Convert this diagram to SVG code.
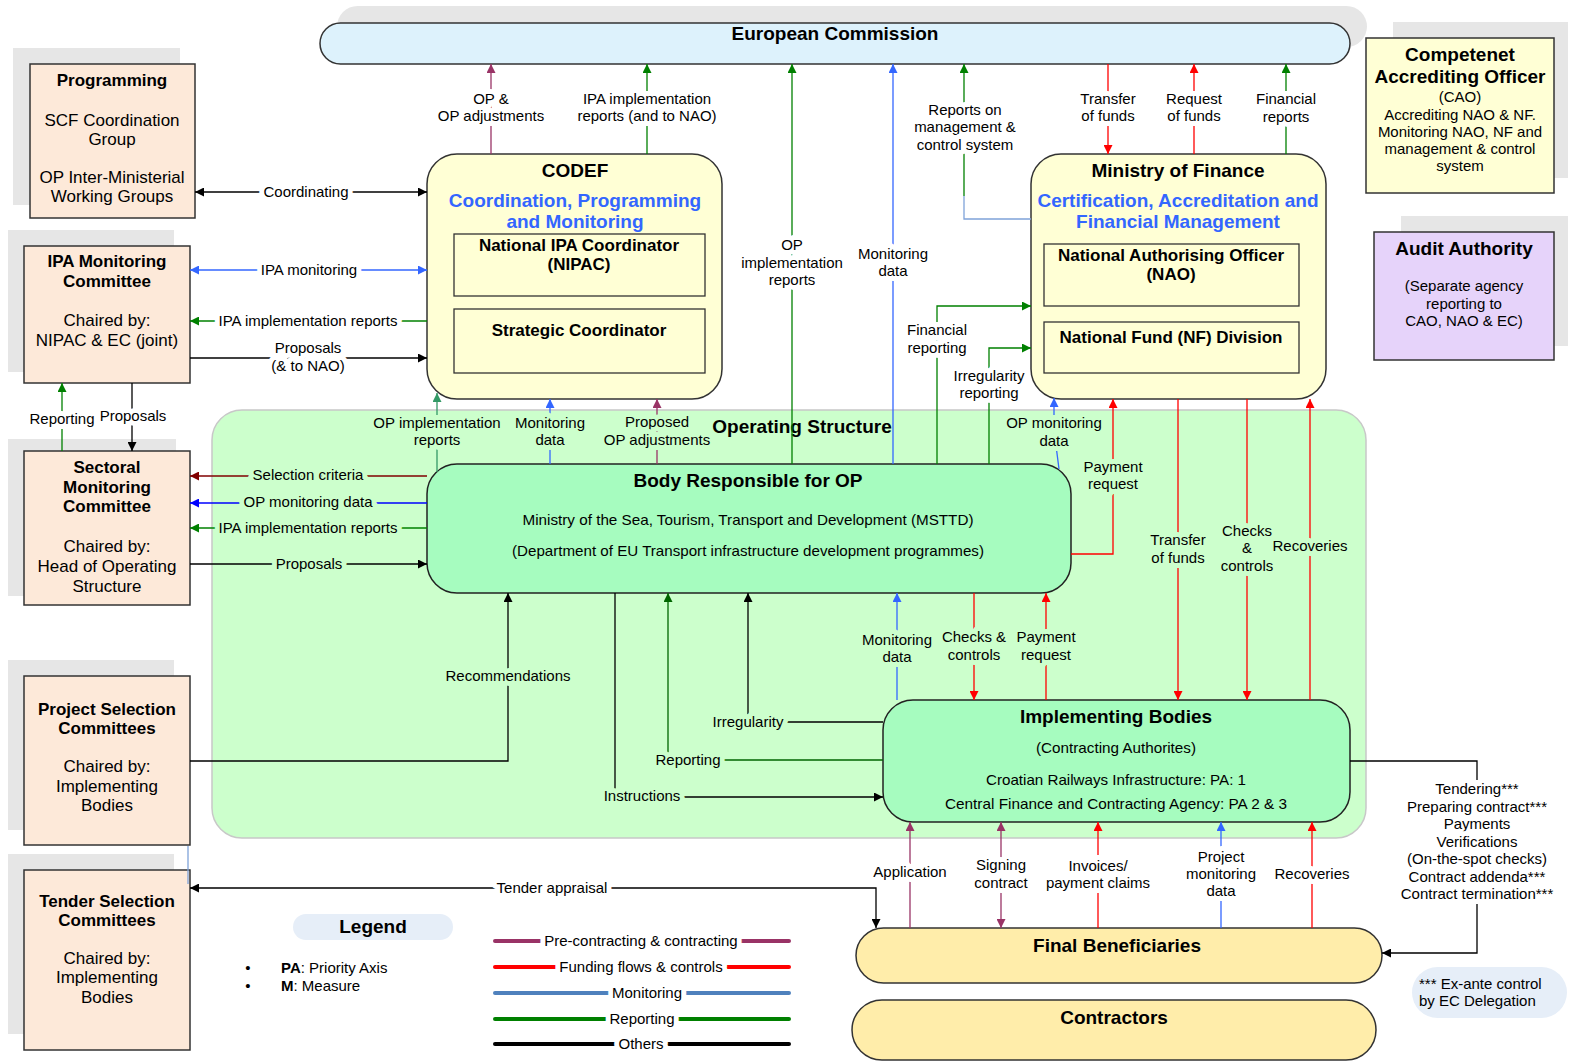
<svg xmlns="http://www.w3.org/2000/svg" width="1585" height="1064" viewBox="0 0 1585 1064">
<style>
text{font-family:"Liberation Sans",Arial,sans-serif;fill:#000;text-anchor:middle}
.t19{font-size:19px;font-weight:bold}
.t17b{font-size:17px;font-weight:bold}
.t17{font-size:17px}
.t15{font-size:15px}
.blue{fill:#3366FF}
.lbl{font-size:15px;stroke:#fff;stroke-width:10;stroke-linejoin:round;paint-order:stroke}
.lblg{font-size:15px;stroke:#CCFFCC;stroke-width:10;stroke-linejoin:round;paint-order:stroke}
.shadow{fill:#E6E6E6}
.box{fill:#FDE9D9;stroke:#333;stroke-width:1.5}
.yel{fill:#FFFFD5;stroke:#333;stroke-width:1.5}
.inner{fill:#FFFFD5;stroke:#333;stroke-width:1.3}
.grn{fill:#A6FCBF;stroke:#222;stroke-width:1.5}
.fb{fill:#FFEDAA;stroke:#333;stroke-width:1.5}
.c{fill:none;stroke-width:1.3}
.k{stroke:#000}.r{stroke:#FF0000}.b{stroke:#3366FF}.b2{stroke:#0000FF}.g{stroke:#008000}.gd{stroke:#006600}.gt{stroke:#339966}.p{stroke:#993366}.dr{stroke:#800000}.lb{stroke:#7FA3D9}
.leg{fill:none;stroke-width:4;stroke-linecap:round}
</style>
<defs>
<marker id="ak" viewBox="0 0 10 10" refX="10" refY="5" markerWidth="13" markerHeight="9" markerUnits="userSpaceOnUse" orient="auto-start-reverse"><path d="M0,0L10,5L0,10z" fill="#000"/></marker>
<marker id="ar" viewBox="0 0 10 10" refX="10" refY="5" markerWidth="13" markerHeight="9" markerUnits="userSpaceOnUse" orient="auto-start-reverse"><path d="M0,0L10,5L0,10z" fill="#FF0000"/></marker>
<marker id="ab" viewBox="0 0 10 10" refX="10" refY="5" markerWidth="13" markerHeight="9" markerUnits="userSpaceOnUse" orient="auto-start-reverse"><path d="M0,0L10,5L0,10z" fill="#3366FF"/></marker>
<marker id="ab2" viewBox="0 0 10 10" refX="10" refY="5" markerWidth="13" markerHeight="9" markerUnits="userSpaceOnUse" orient="auto-start-reverse"><path d="M0,0L10,5L0,10z" fill="#0000FF"/></marker>
<marker id="ag" viewBox="0 0 10 10" refX="10" refY="5" markerWidth="13" markerHeight="9" markerUnits="userSpaceOnUse" orient="auto-start-reverse"><path d="M0,0L10,5L0,10z" fill="#008000"/></marker>
<marker id="agd" viewBox="0 0 10 10" refX="10" refY="5" markerWidth="13" markerHeight="9" markerUnits="userSpaceOnUse" orient="auto-start-reverse"><path d="M0,0L10,5L0,10z" fill="#006600"/></marker>
<marker id="agt" viewBox="0 0 10 10" refX="10" refY="5" markerWidth="13" markerHeight="9" markerUnits="userSpaceOnUse" orient="auto-start-reverse"><path d="M0,0L10,5L0,10z" fill="#339966"/></marker>
<marker id="ap" viewBox="0 0 10 10" refX="10" refY="5" markerWidth="13" markerHeight="9" markerUnits="userSpaceOnUse" orient="auto-start-reverse"><path d="M0,0L10,5L0,10z" fill="#993366"/></marker>
<marker id="adr" viewBox="0 0 10 10" refX="10" refY="5" markerWidth="13" markerHeight="9" markerUnits="userSpaceOnUse" orient="auto-start-reverse"><path d="M0,0L10,5L0,10z" fill="#800000"/></marker>
</defs>
<rect width="1585" height="1064" fill="#fff"/>

<g id="shadows">
<rect class="shadow" x="337" y="6" width="1030" height="41" rx="20.5"/>
<rect class="shadow" x="13" y="48" width="167" height="157"/>
<rect class="shadow" x="8" y="230" width="166" height="142"/>
<rect class="shadow" x="8" y="439" width="168" height="157"/>
<rect class="shadow" x="8" y="660" width="166" height="170"/>
<rect class="shadow" x="8" y="854" width="166" height="180"/>
<rect class="shadow" x="1393" y="22" width="175" height="156"/>
<rect class="shadow" x="1401" y="216" width="167" height="130"/>
</g>

<g id="operating-structure">
<rect x="212" y="410" width="1154" height="428" rx="30" fill="#CCFFCC" stroke="#C8C8C8" stroke-width="1.5"/>
<text class="t19" x="802" y="433">Operating Structure</text>
</g>

<g id="european-commission">
<rect x="320" y="23" width="1030" height="41" rx="20.5" fill="#DDF2FC" stroke="#333" stroke-width="1.5"/>
<text class="t19" x="835" y="40">European Commission</text>
</g>

<g id="programming">
<rect class="box" x="30" y="64" width="165" height="154"/>
<text class="t17b" x="112" y="86">Programming</text>
<text class="t17" x="112" y="126">SCF Coordination</text>
<text class="t17" x="112" y="145">Group</text>
<text class="t17" x="112" y="183">OP Inter-Ministerial</text>
<text class="t17" x="112" y="202">Working Groups</text>
</g>

<g id="ipa-monitoring-committee">
<rect class="box" x="24" y="246" width="166" height="137"/>
<text class="t17b" x="107" y="267">IPA Monitoring</text>
<text class="t17b" x="107" y="287">Committee</text>
<text class="t17" x="107" y="326">Chaired by:</text>
<text class="t17" x="107" y="346">NIPAC &amp; EC (joint)</text>
</g>

<g id="sectoral-monitoring-committee">
<rect class="box" x="24" y="451" width="166" height="154"/>
<text class="t17b" x="107" y="473">Sectoral</text>
<text class="t17b" x="107" y="493">Monitoring</text>
<text class="t17b" x="107" y="512">Committee</text>
<text class="t17" x="107" y="552">Chaired by:</text>
<text class="t17" x="107" y="572">Head of Operating</text>
<text class="t17" x="107" y="592">Structure</text>
</g>

<g id="project-selection-committees">
<rect class="box" x="24" y="676" width="166" height="169"/>
<text class="t17b" x="107" y="715">Project Selection</text>
<text class="t17b" x="107" y="734">Committees</text>
<text class="t17" x="107" y="772">Chaired by:</text>
<text class="t17" x="107" y="792">Implementing</text>
<text class="t17" x="107" y="811">Bodies</text>
</g>

<g id="tender-selection-committees">
<rect class="box" x="24" y="870" width="166" height="180"/>
<text class="t17b" x="107" y="907">Tender Selection</text>
<text class="t17b" x="107" y="926">Committees</text>
<text class="t17" x="107" y="964">Chaired by:</text>
<text class="t17" x="107" y="983">Implementing</text>
<text class="t17" x="107" y="1003">Bodies</text>
</g>

<g id="codef">
<rect class="yel" x="427" y="154" width="295" height="245" rx="30"/>
<text class="t19" x="575" y="177">CODEF</text>
<text class="t19 blue" x="575" y="207">Coordination, Programming</text>
<text class="t19 blue" x="575" y="228">and Monitoring</text>
<rect class="inner" x="454" y="234" width="251" height="62"/>
<text class="t17b" x="579" y="251">National IPA Coordinator</text>
<text class="t17b" x="579" y="270">(NIPAC)</text>
<rect class="inner" x="454" y="309" width="251" height="64"/>
<text class="t17b" x="579" y="336">Strategic Coordinator</text>
</g>

<g id="ministry-of-finance">
<rect class="yel" x="1031" y="154" width="295" height="245" rx="30"/>
<text class="t19" x="1178" y="177">Ministry of Finance</text>
<text class="t19 blue" x="1178" y="207">Certification, Accreditation and</text>
<text class="t19 blue" x="1178" y="228">Financial Management</text>
<rect class="inner" x="1044" y="244" width="255" height="62"/>
<text class="t17b" x="1171" y="261">National Authorising Officer</text>
<text class="t17b" x="1171" y="280">(NAO)</text>
<rect class="inner" x="1044" y="322" width="255" height="51"/>
<text class="t17b" x="1171" y="343">National Fund (NF) Division</text>
</g>

<g id="competent-accrediting-officer">
<rect x="1366" y="38" width="188" height="155" fill="#FFFFD5" stroke="#333" stroke-width="1.5"/>
<text class="t19" x="1460" y="61">Competenet</text>
<text class="t19" x="1460" y="83">Accrediting Officer</text>
<text class="t15" x="1460" y="102">(CAO)</text>
<text class="t15" x="1460" y="120">Accrediting NAO &amp; NF.</text>
<text class="t15" x="1460" y="137">Monitoring NAO, NF and</text>
<text class="t15" x="1460" y="154">management &amp; control</text>
<text class="t15" x="1460" y="171">system</text>
</g>

<g id="audit-authority">
<rect x="1374" y="232" width="180" height="128" fill="#E6D3FA" stroke="#333" stroke-width="1.5"/>
<text class="t19" x="1464" y="255">Audit Authority</text>
<text class="t15" x="1464" y="291">(Separate agency</text>
<text class="t15" x="1464" y="309">reporting to</text>
<text class="t15" x="1464" y="326">CAO, NAO &amp; EC)</text>
</g>

<g id="body-responsible">
<rect class="grn" x="427" y="464" width="644" height="129" rx="30"/>
<text class="t19" x="748" y="487">Body Responsible for OP</text>
<text class="t15" x="748" y="525" textLength="451" lengthAdjust="spacingAndGlyphs">Ministry of the Sea, Tourism, Transport and Development (MSTTD)</text>
<text class="t15" x="748" y="556" textLength="472" lengthAdjust="spacingAndGlyphs">(Department of EU Transport infrastructure development programmes)</text>
</g>

<g id="implementing-bodies">
<rect class="grn" x="883" y="700" width="467" height="122" rx="30"/>
<text class="t19" x="1116" y="723">Implementing Bodies</text>
<text class="t15" x="1116" y="753" textLength="160" lengthAdjust="spacingAndGlyphs">(Contracting Authorites)</text>
<text class="t15" x="1116" y="785" textLength="260" lengthAdjust="spacingAndGlyphs">Croatian Railways Infrastructure: PA: 1</text>
<text class="t15" x="1116" y="809" textLength="342" lengthAdjust="spacingAndGlyphs">Central Finance and Contracting Agency: PA 2 &amp; 3</text>
</g>

<g id="final-beneficiaries">
<rect class="fb" x="856" y="928" width="526" height="55" rx="27.5"/>
<text class="t19" x="1117" y="952">Final Beneficiaries</text>
</g>

<g id="contractors">
<rect class="fb" x="852" y="1000" width="524" height="60" rx="30"/>
<text class="t19" x="1114" y="1024">Contractors</text>
</g>

<g id="legend">
<rect x="293" y="914" width="160" height="26" rx="13" fill="#E6EEF8"/>
<text class="t19" x="373" y="933">Legend</text>
<text class="t15" x="248" y="973">•</text>
<text class="t15" x="281" y="973" style="text-anchor:start"><tspan font-weight="bold">PA</tspan>: Priority Axis</text>
<text class="t15" x="248" y="991">•</text>
<text class="t15" x="281" y="991" style="text-anchor:start"><tspan font-weight="bold">M</tspan>: Measure</text>
<path class="leg" d="M495,941H789" stroke="#993366"/>
<path class="leg" d="M495,967H789" stroke="#FF0000"/>
<path class="leg" d="M495,993H789" stroke="#4F81BD"/>
<path class="leg" d="M495,1019H789" stroke="#008000"/>
<path class="leg" d="M495,1044H789" stroke="#000"/>
<text class="lbl" x="641" y="946">Pre-contracting &amp; contracting</text>
<text class="lbl" x="641" y="972">Funding flows &amp; controls</text>
<text class="lbl" x="647" y="998">Monitoring</text>
<text class="lbl" x="642" y="1024">Reporting</text>
<text class="lbl" x="641" y="1049">Others</text>
</g>

<g id="ex-ante-note">
<rect x="1412" y="967" width="155" height="51" rx="25.5" fill="#E6EEF8"/>
<text class="t15" x="1419" y="989" style="text-anchor:start">*** Ex-ante control</text>
<text class="t15" x="1419" y="1006" style="text-anchor:start">by EC Delegation</text>
</g>

<g id="connectors">
<path class="c k" d="M195,192H427" marker-start="url(#ak)" marker-end="url(#ak)"/>
<path class="c b" d="M190,270H427" marker-start="url(#ab)" marker-end="url(#ab)"/>
<path class="c g" d="M427,321H190" marker-end="url(#ag)"/>
<path class="c k" d="M190,358H427" marker-end="url(#ak)"/>
<path class="c g" d="M62,451V383" marker-end="url(#ag)"/>
<path class="c k" d="M132,383V451" marker-end="url(#ak)"/>
<path class="c dr" d="M427,476H190" marker-end="url(#adr)"/>
<path class="c b2" d="M427,503H190" marker-end="url(#ab2)"/>
<path class="c g" d="M427,528H190" marker-end="url(#ag)"/>
<path class="c k" d="M190,564H427" marker-end="url(#ak)"/>
<path class="c k" d="M190,761H508V593" marker-end="url(#ak)"/>
<path class="c k" d="M876,928V888H190" marker-start="url(#ak)" marker-end="url(#ak)"/>
<path class="c lb" d="M188,846V884"/>
<path class="c p" d="M491,154V64" marker-end="url(#ap)"/>
<path class="c g" d="M647,154V64" marker-end="url(#ag)"/>
<path class="c g" d="M792,464V64" marker-end="url(#ag)"/>
<path class="c b" d="M893,464V64" marker-end="url(#ab)"/>
<path class="c lb" d="M1031,219H964V196"/>
<path class="c g" d="M964,196V64" marker-end="url(#ag)"/>
<path class="c r" d="M1108,64V154" marker-end="url(#ar)"/>
<path class="c r" d="M1194,154V64" marker-end="url(#ar)"/>
<path class="c g" d="M1286,154V64" marker-end="url(#ag)"/>
<path class="c g" d="M937,464V306H1031" marker-end="url(#ag)"/>
<path class="c g" d="M989,464V348H1031" marker-end="url(#ag)"/>
<path class="c b" d="M1059,469L1054,430V398" marker-end="url(#ab)"/>
<path class="c r" d="M1071,554H1113V399" marker-end="url(#ar)"/>
<path class="c r" d="M1178,399V700" marker-end="url(#ar)"/>
<path class="c r" d="M1247,399V700" marker-end="url(#ar)"/>
<path class="c r" d="M1310,700V399" marker-end="url(#ar)"/>
<path class="c gt" d="M437,472V393" marker-end="url(#agt)"/>
<path class="c b" d="M550,464V399" marker-end="url(#ab)"/>
<path class="c p" d="M657,464V399" marker-end="url(#ap)"/>
<path class="c k" d="M615,593V797H883" marker-end="url(#ak)"/>
<path class="c gd" d="M883,760H668V593" marker-end="url(#agd)"/>
<path class="c k" d="M883,722H748V593" marker-end="url(#ak)"/>
<path class="c b" d="M897,700V593" marker-end="url(#ab)"/>
<path class="c r" d="M974,593V700" marker-end="url(#ar)"/>
<path class="c r" d="M1046,700V593" marker-end="url(#ar)"/>
<path class="c k" d="M1350,761H1477V953H1382" marker-end="url(#ak)"/>
<path class="c p" d="M910,928V822" marker-end="url(#ap)"/>
<path class="c p" d="M1001,822V928" marker-start="url(#ap)" marker-end="url(#ap)"/>
<path class="c r" d="M1098,928V822" marker-end="url(#ar)"/>
<path class="c b" d="M1221,928V822" marker-end="url(#ab)"/>
<path class="c r" d="M1312,928V822" marker-end="url(#ar)"/>

<text class="lbl" x="306" y="197">Coordinating</text>
<text class="lbl" x="309" y="275">IPA monitoring</text>
<text class="lbl" x="308" y="326">IPA implementation reports</text>
<text class="lbl" x="308" y="353">Proposals</text>
<text class="lbl" x="308" y="371">(&amp; to NAO)</text>
<text class="lbl" x="62" y="424">Reporting</text>
<text class="lbl" x="133" y="421">Proposals</text>
<text class="lblg" x="308" y="480">Selection criteria</text>
<text class="lblg" x="308" y="507">OP monitoring data</text>
<text class="lblg" x="308" y="533">IPA implementation reports</text>
<text class="lblg" x="309" y="569">Proposals</text>
<text class="lblg" x="508" y="681">Recommendations</text>
<text class="lbl" x="552" y="893">Tender appraisal</text>
<text class="lbl" x="491" y="104">OP &amp;</text>
<text class="lbl" x="491" y="121">OP adjustments</text>
<text class="lbl" x="647" y="104">IPA implementation</text>
<text class="lbl" x="647" y="121">reports (and to NAO)</text>
<text class="lbl" x="792" y="250">OP</text>
<text class="lbl" x="792" y="268">implementation</text>
<text class="lbl" x="792" y="285">reports</text>
<text class="lbl" x="893" y="259">Monitoring</text>
<text class="lbl" x="893" y="276">data</text>
<text class="lbl" x="965" y="115">Reports on</text>
<text class="lbl" x="965" y="132">management &amp;</text>
<text class="lbl" x="965" y="150">control system</text>
<text class="lbl" x="1108" y="104">Transfer</text>
<text class="lbl" x="1108" y="121">of funds</text>
<text class="lbl" x="1194" y="104">Request</text>
<text class="lbl" x="1194" y="121">of funds</text>
<text class="lbl" x="1286" y="104">Financial</text>
<text class="lbl" x="1286" y="122">reports</text>
<text class="lbl" x="937" y="335">Financial</text>
<text class="lbl" x="937" y="353">reporting</text>
<text class="lbl" x="989" y="381">Irregularity</text>
<text class="lbl" x="989" y="398">reporting</text>
<text class="lblg" x="1054" y="428">OP monitoring</text>
<text class="lblg" x="1054" y="446">data</text>
<text class="lblg" x="1113" y="472">Payment</text>
<text class="lblg" x="1113" y="489">request</text>
<text class="lblg" x="1178" y="545">Transfer</text>
<text class="lblg" x="1178" y="563">of funds</text>
<text class="lblg" x="1247" y="536">Checks</text>
<text class="lblg" x="1247" y="553">&amp;</text>
<text class="lblg" x="1247" y="571">controls</text>
<text class="lblg" x="1310" y="551">Recoveries</text>
<text class="lblg" x="437" y="428">OP implementation</text>
<text class="lblg" x="437" y="445">reports</text>
<text class="lblg" x="550" y="428">Monitoring</text>
<text class="lblg" x="550" y="445">data</text>
<text class="lblg" x="657" y="427">Proposed</text>
<text class="lblg" x="657" y="445">OP adjustments</text>
<text class="lblg" x="642" y="801">Instructions</text>
<text class="lblg" x="688" y="765">Reporting</text>
<text class="lblg" x="748" y="727">Irregularity</text>
<text class="lblg" x="897" y="645">Monitoring</text>
<text class="lblg" x="897" y="662">data</text>
<text class="lblg" x="974" y="642">Checks &amp;</text>
<text class="lblg" x="974" y="660">controls</text>
<text class="lblg" x="1046" y="642">Payment</text>
<text class="lblg" x="1046" y="660">request</text>
<rect x="1398" y="780" width="158" height="124" fill="#fff"/>
<text class="lbl" x="1477" y="794">Tendering***</text>
<text class="lbl" x="1477" y="812">Preparing contract***</text>
<text class="lbl" x="1477" y="829">Payments</text>
<text class="lbl" x="1477" y="847">Verifications</text>
<text class="lbl" x="1477" y="864">(On-the-spot checks)</text>
<text class="lbl" x="1477" y="882">Contract addenda***</text>
<text class="lbl" x="1477" y="899">Contract termination***</text>
<text class="lbl" x="910" y="877">Application</text>
<text class="lbl" x="1001" y="870">Signing</text>
<text class="lbl" x="1001" y="888">contract</text>
<text class="lbl" x="1098" y="871">Invoices/</text>
<text class="lbl" x="1098" y="888">payment claims</text>
<text class="lbl" x="1221" y="862">Project</text>
<text class="lbl" x="1221" y="879">monitoring</text>
<text class="lbl" x="1221" y="896">data</text>
<text class="lbl" x="1312" y="879">Recoveries</text>
</g>
</svg>
